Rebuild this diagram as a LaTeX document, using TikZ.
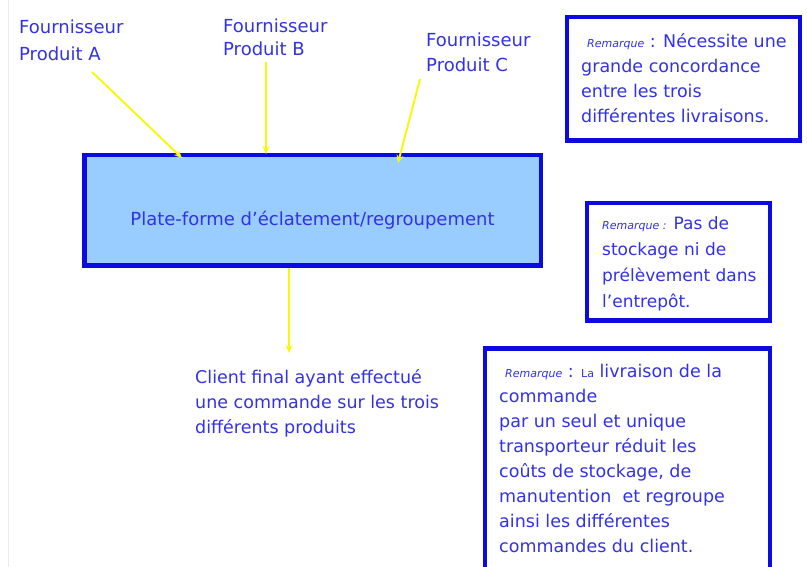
\documentclass[tikz,border=0pt]{standalone}
\usepackage{fontspec}
\setmainfont{DejaVu Sans}
\usetikzlibrary{arrows.meta}
\definecolor{bord}{RGB}{10,10,225}
\definecolor{fondbleu}{RGB}{153,204,255}
\definecolor{texte}{RGB}{50,50,230}
\definecolor{jaune}{RGB}{248,248,10}
\newcommand\remfont{\fontsize{11}{12}\selectfont\itshape}
\tikzset{
  fleche/.style={draw=jaune, line width=1.9pt, -{Stealth[length=8pt,width=7pt]}},
  cadre/.style={draw=bord, line width=4.5pt},
  txt/.style={text=texte, inner sep=0pt, anchor=north west, align=left, font=\fontsize{18}{25}\selectfont},
  remtxt/.style={txt, font=\fontsize{17.5}{25}\selectfont}
}
\begin{document}
\begin{tikzpicture}[x=1pt,y=-1pt]
\useasboundingbox (0,0) rectangle (807,567);
\fill[white] (0,0) rectangle (807,567);
\draw[black!8, line width=0.8pt] (8,0) -- (8,567);
% main box
\node[cadre, fill=fondbleu, minimum width=456.5pt, minimum height=110.5pt, inner sep=0pt] (plat) at (312.5,210.5) {};
\node[text=texte, inner sep=0pt, anchor=base, font=\fontsize{18}{20}\selectfont] (platt) at (312.5,226) {Plate-forme d'éclatement/regroupement};
% suppliers
\node[txt] (fa) at (19,19.3) {Fournisseur\\[2pt]Produit A};
\node[txt] (fb) at (223,18.3) {Fournisseur\\[-2pt]Produit B};
\node[txt] (fc) at (426,32.3) {Fournisseur\\Produit C};
\coordinate (fas) at (92,72);
\coordinate (fae) at (182,158);
\coordinate (fbs) at (266,62);
\coordinate (fbe) at (266,154);
\coordinate (fcs) at (420,79);
\coordinate (fce) at (398,163);
\draw[fleche] (fas) -- (fae);
\draw[fleche] (fbs) -- (fbe);
\draw[fleche] (fcs) -- (fce);
% client
\node[txt, font=\fontsize{17.5}{25}\selectfont] (cl) at (195,369) {Client final ayant effectué\\une commande sur les trois\\différents produits};
\coordinate (cls) at (289,268);
\coordinate (cle) at (289,353);
\draw[fleche] (cls) -- (cle);
% remarks
\draw[cadre] (567,17) rectangle (800,140.5);
\node[remtxt] (r1) at (581,33) {\hspace{6pt}{\remfont Remarque} : Nécessite une\\grande concordance\\entre les trois\\différentes livraisons.};
\draw[cadre] (587,203) rectangle (770,320.5);
\node[remtxt, font=\fontsize{17}{25}\selectfont] (r2) at (602,216) {{\remfont Remarque :} Pas de\\[1pt]stockage ni de\\[1pt]prélèvement dans\\[1pt]l'entrepôt.};
\begin{scope}
\clip (0,0) rectangle (807,567);
\draw[cadre] (485,348.5) rectangle (770,580);
\end{scope}
\node[remtxt] (r3) at (499,363.7) {\hspace{6pt}{\remfont Remarque} : {\remfont\upshape La} livraison de la\\commande\\par un seul et unique\\transporteur réduit les\\coûts de stockage, de\\manutention\ \ et regroupe\\ainsi les différentes\\commandes du client.};
\end{tikzpicture}
\end{document}
